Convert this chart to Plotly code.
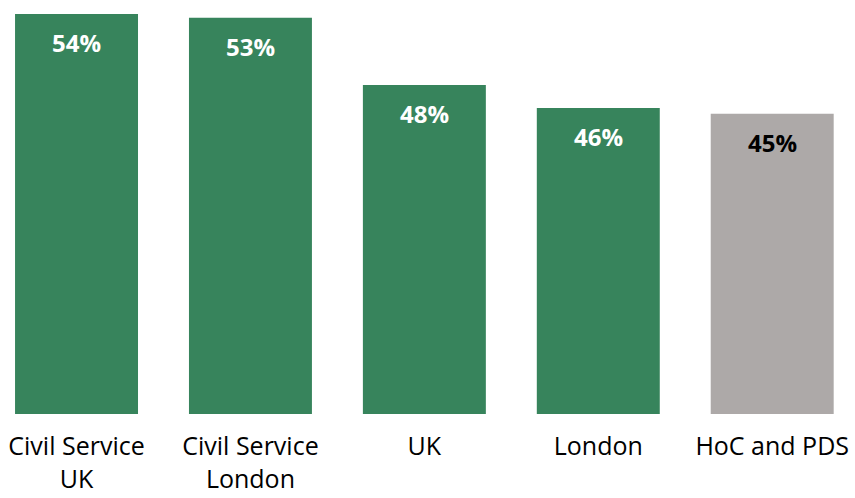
import plotly.graph_objects as go

categories = ["Civil Service<br>UK", "Civil Service<br>London", "UK", "London", "HoC and PDS"]
values = [53.65, 53.33, 47.63, 45.68, 45.2]
labels = ["54%", "53%", "48%", "46%", "45%"]
bar_colors = ["#37845C", "#37845C", "#37845C", "#37845C", "#ADA9A8"]
label_colors = ["white", "white", "white", "white", "black"]

fig = go.Figure()
fig.add_trace(go.Bar(
    x=categories, y=values, marker=dict(color=bar_colors, line=dict(width=0)),
    hoverinfo="skip", showlegend=False,
))
for c, v, t, col in zip(categories, values, labels, label_colors):
    fig.add_annotation(x=c, y=v, text="<b>" + t + "</b>", showarrow=False,
                       yanchor="top", yshift=-10,
                       font=dict(family="Open Sans", size=24, color=col))

fig.update_layout(
    width=855, height=498,
    margin=dict(l=0, r=0, t=0, b=84, autoexpand=False),
    paper_bgcolor="white", plot_bgcolor="white",
    bargap=0.293,
    xaxis=dict(range=[-0.44, 4.476], showgrid=False, zeroline=False, showline=False,
               ticks="", tickfont=dict(family="Open Sans", size=25, color="black"),
               ticklabelstandoff=15, automargin=False),
    yaxis=dict(range=[19.75, 54.83], visible=False),
)
fig.write_html("out.html", config={"displayModeBar": False},
               post_script="document.body.style.margin='0px';")
